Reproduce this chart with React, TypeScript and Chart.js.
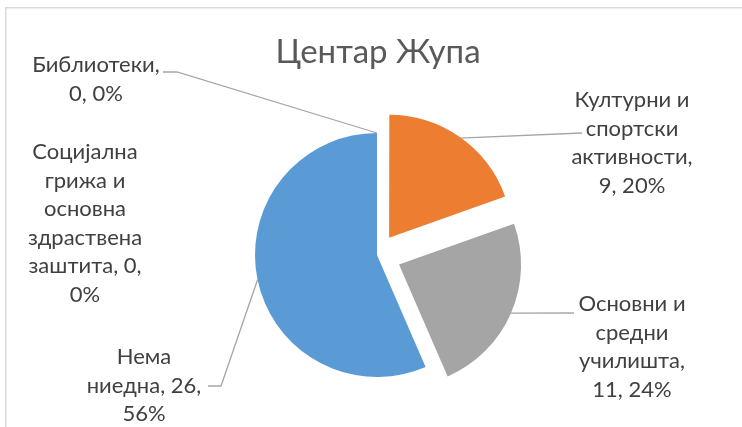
import React, { useEffect, useRef } from "react";
import { Chart, registerables } from "chart.js";

Chart.register(...registerables);

// ---- data ----
const chartTitle = "Центар Жупа";
const categories = [
  "Културни и спортски активности",
  "Основни и средни училишта",
  "Нема ниедна",
  "Социјална грижа и основна здраствена заштита",
  "Библиотеки",
];
const values = [9, 11, 26, 0, 0];
const percentLabels = [20, 24, 56, 0, 0];

// ---- styles / layout ----
const colors = ["#ED7D31", "#A5A5A5", "#5B9BD5", "#FFC000", "#4472C4"];
const explodePx = [21, 24, 0, 0, 0];
const OFFSET_DIV = 4; // Chart.js arc translates by offset / 4
const PIE_RADIUS = 122;
const FONT = "Lato, 'Open Sans', sans-serif";
const LABEL_SIZE = 22;
const LINE_H = 28.5;
const TITLE_SIZE = 33;

type Pt = [number, number];
const labelLayout: { cx: number; cy: number; maxW: number; leader: Pt[] | null }[] = [
  { cx: 632, cy: 100, maxW: 128, leader: [[582, 133]] },
  { cx: 632, cy: 304, maxW: 128, leader: [[574, 313]] },
  { cx: 144, cy: 357, maxW: 128, leader: [[221, 386], [208, 386]] },
  { cx: 85, cy: 152, maxW: 128, leader: null },
  { cx: 96, cy: 65, maxW: 140, leader: [[177, 72], [163, 72]] },
];
const titlePos = { x: 378, y: 52 };

function wrap(ctx: CanvasRenderingContext2D, text: string, maxW: number): string[] {
  const words = text.split(" ");
  const lines: string[] = [];
  let cur = "";
  for (const w of words) {
    const t = cur ? cur + " " + w : w;
    if (cur && ctx.measureText(t).width > maxW) {
      lines.push(cur);
      cur = w;
    } else cur = t;
  }
  if (cur) lines.push(cur);
  return lines;
}

const framePlugin = {
  id: "frame",
  beforeDraw(chart: any) {
    const ctx = chart.ctx as CanvasRenderingContext2D;
    ctx.save();
    ctx.fillStyle = "#ffffff";
    ctx.fillRect(0, 0, chart.width, chart.height);
    ctx.strokeStyle = "#D9D9D9";
    ctx.lineWidth = 1.5;
    ctx.strokeRect(5.75, 7.75, 900, 900);
    ctx.restore();
  },
};

const labelsPlugin = {
  id: "pieLabels",
  afterDatasetsDraw(chart: any) {
    const ctx = chart.ctx as CanvasRenderingContext2D;
    const meta = chart.getDatasetMeta(0);
    ctx.save();
    // title
    ctx.fillStyle = "#595959";
    ctx.font = `${TITLE_SIZE}px ${FONT}`;
    ctx.textAlign = "center";
    ctx.textBaseline = "middle";
    ctx.fillText(chartTitle, titlePos.x, titlePos.y);

    meta.data.forEach((arc: any, i: number) => {
      const lay = labelLayout[i];
      const mid = (arc.startAngle + arc.endAngle) / 2;
      const t = explodePx[i];
      const ax = arc.x + Math.cos(mid) * (arc.outerRadius + t);
      const ay = arc.y + Math.sin(mid) * (arc.outerRadius + t);
      if (lay.leader) {
        ctx.strokeStyle = "#A6A6A6";
        ctx.lineWidth = 1.3;
        ctx.beginPath();
        ctx.moveTo(ax, ay);
        lay.leader.forEach((p) => ctx.lineTo(p[0], p[1]));
        ctx.stroke();
      }
      ctx.font = `${LABEL_SIZE}px ${FONT}`;
      ctx.fillStyle = "#404040";
      ctx.textAlign = "center";
      ctx.textBaseline = "middle";
      const text = `${categories[i]}, ${values[i]}, ${percentLabels[i]}%`;
      const lines = wrap(ctx, text, lay.maxW);
      lines.forEach((ln, k) => ctx.fillText(ln, lay.cx, lay.cy + k * LINE_H));
    });
    ctx.restore();
  },
};

export default function App() {
  const ref = useRef<HTMLCanvasElement | null>(null);
  useEffect(() => {
    if (!ref.current) return;
    const chart = new Chart(ref.current, {
      type: "pie",
      data: {
        labels: categories,
        datasets: [
          {
            data: values,
            backgroundColor: colors,
            borderWidth: 0,
            offset: explodePx.map((e) => e * OFFSET_DIV),
            radius: PIE_RADIUS,
          } as any,
        ],
      },
      options: {
        responsive: false,
        animation: false,
        layout: { padding: { left: 12, right: 0, top: 100, bottom: 17 } },
        plugins: {
          legend: { display: false },
          tooltip: { enabled: false },
          title: { display: false },
        },
      },
      plugins: [framePlugin, labelsPlugin],
    });
    return () => chart.destroy();
  }, []);
  return (
    <div style={{ position: "fixed", left: 0, top: 0, width: 742, height: 427 }}>
      <canvas ref={ref} width={742} height={427} style={{ width: 742, height: 427 }} />
    </div>
  );
}
